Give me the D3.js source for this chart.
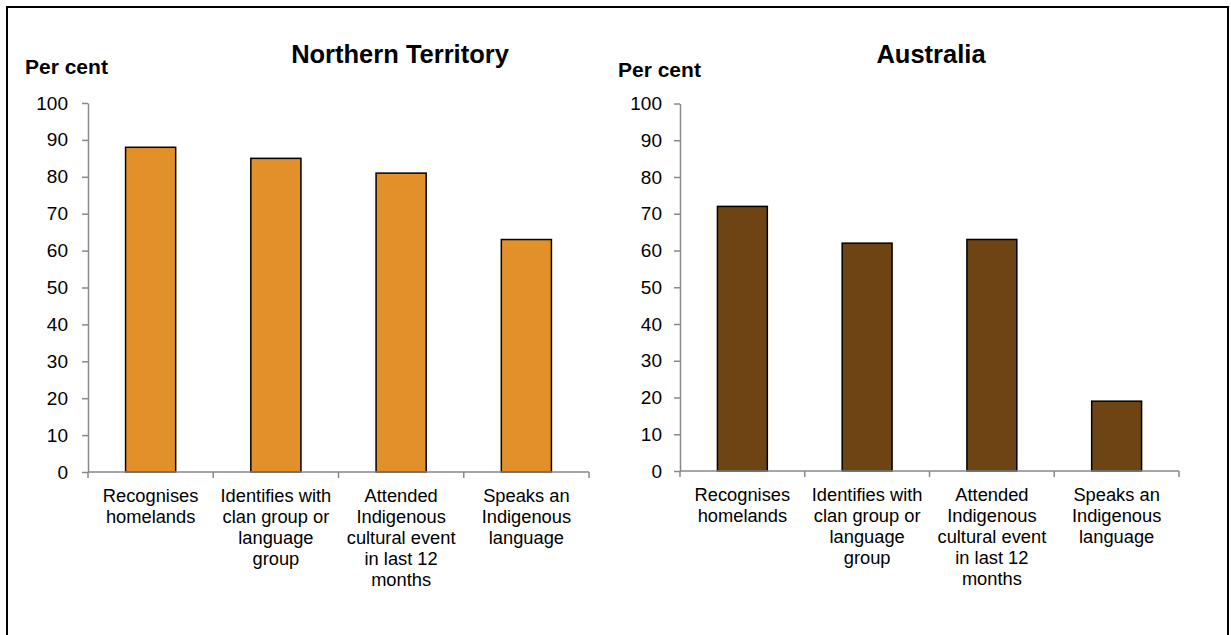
<!DOCTYPE html>
<html>
<head>
<meta charset="utf-8">
<script src="https://cdn.jsdelivr.net/npm/d3@7"></script>
<style>
  html, body { margin: 0; padding: 0; background: #fff; }
  svg { display: block; font-family: "Liberation Sans", Arial, sans-serif; }
</style>
</head>
<body>
<svg id="chart" width="1231" height="635"></svg>
<script>
// ---- data ----
const categories = [
  "Recognises homelands",
  "Identifies with clan group or language group",
  "Attended Indigenous cultural event in last 12 months",
  "Speaks an Indigenous language"
];
const categoryLines = [
  ["Recognises", "homelands"],
  ["Identifies with", "clan group or", "language", "group"],
  ["Attended", "Indigenous", "cultural event", "in last 12", "months"],
  ["Speaks an", "Indigenous", "language"]
];
const ntValues = [88, 85, 81, 63];
const ausValues = [72, 62, 63, 19];
const yTicks = [0, 10, 20, 30, 40, 50, 60, 70, 80, 90, 100];
const panelTitles = ["Northern Territory", "Australia"];
const yAxisLabel = "Per cent";

const svg = d3.select("#chart");

// outer frame
svg.append("rect")
  .attr("x", 7).attr("y", 7)
  .attr("width", 1221).attr("height", 640)
  .attr("fill", "none").attr("stroke", "#000").attr("stroke-width", 2);

const panels = [
  { title: panelTitles[0], values: ntValues, color: "#E2902A",
    x0: 88, x1: 589, yTop: 103, yBottom: 472, titleX: 400, labelX: 25, labelY: 74, tickPad: 14 },
  { title: panelTitles[1], values: ausValues, color: "#6E4414",
    x0: 680, x1: 1179, yTop: 103.5, yBottom: 471, titleX: 931, labelX: 618, labelY: 77, tickPad: 12 }
];

const axisColor = "#898989";

panels.forEach(p => {
  const g = svg.append("g");

  const x = d3.scaleBand()
    .domain(categories)
    .range([p.x0, p.x1])
    .paddingInner(0.6)
    .paddingOuter(0.3);

  const y = d3.scaleLinear().domain([0, 100]).range([p.yBottom, p.yTop]);

  // title
  g.append("text")
    .attr("x", p.titleX).attr("y", 63)
    .attr("text-anchor", "middle")
    .attr("font-size", "25.5px").attr("font-weight", "bold")
    .attr("fill", "#000")
    .text(p.title);

  // y-axis label
  g.append("text")
    .attr("x", p.labelX).attr("y", p.labelY)
    .attr("font-size", "21px").attr("font-weight", "bold")
    .attr("fill", "#000")
    .text(yAxisLabel);

  // y axis
  const yAxis = g.append("g")
    .attr("transform", `translate(${p.x0},0)`)
    .call(d3.axisLeft(y).tickValues(yTicks).tickSize(6).tickPadding(p.tickPad).tickSizeOuter(0));
  yAxis.select(".domain").attr("stroke", axisColor).attr("stroke-width", 1.5);
  yAxis.selectAll(".tick line").attr("stroke", axisColor).attr("stroke-width", 1.5);
  yAxis.selectAll(".tick text")
    .attr("font-size", "19px").attr("fill", "#000")
    .attr("font-family", "Liberation Sans, Arial, sans-serif");

  // bars
  g.selectAll("rect.bar")
    .data(p.values)
    .join("rect")
    .attr("class", "bar")
    .attr("x", (d, i) => x(categories[i]))
    .attr("width", x.bandwidth())
    .attr("y", d => y(d))
    .attr("height", d => y(0) - y(d))
    .attr("fill", p.color)
    .attr("stroke", "#000")
    .attr("stroke-width", 1.5);

  // x axis line
  g.append("line")
    .attr("x1", p.x0).attr("x2", p.x1)
    .attr("y1", y(0)).attr("y2", y(0))
    .attr("stroke", axisColor).attr("stroke-width", 1.5);

  // category boundary ticks
  const step = x.step();
  const bounds = categories.map(c => x(c) - step * x.paddingOuter());
  bounds.push(p.x1);
  g.selectAll("line.xtick")
    .data(bounds)
    .join("line")
    .attr("class", "xtick")
    .attr("x1", d => d).attr("x2", d => d)
    .attr("y1", y(0)).attr("y2", y(0) + 6)
    .attr("stroke", axisColor).attr("stroke-width", 1.5);

  // category labels
  categories.forEach((c, i) => {
    const t = g.append("text")
      .attr("text-anchor", "middle")
      .attr("font-size", "18.3px")
      .attr("fill", "#000");
    categoryLines[i].forEach((line, j) => {
      t.append("tspan")
        .attr("x", x(c) + x.bandwidth() / 2)
        .attr("y", y(0) + 30 + j * 21)
        .text(line);
    });
  });
});
</script>
</body>
</html>
